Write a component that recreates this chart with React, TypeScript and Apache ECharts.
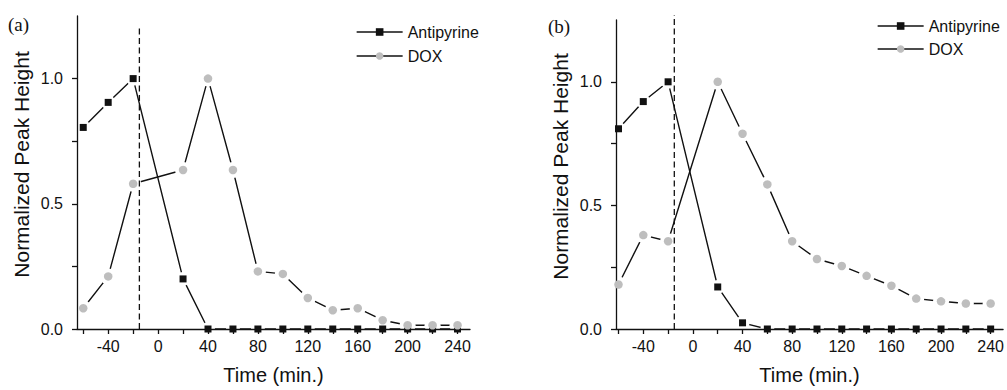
import React, { useEffect, useRef } from "react";
import * as echarts from "echarts";

// ---- data ----
const times = [-60, -40, -20, 20, 40, 60, 80, 100, 120, 140, 160, 180, 200, 220, 240];
const antipyrineA = [0.805, 0.905, 1.0, 0.2, 0, 0, 0, 0, 0, 0, 0, 0, 0, 0, 0];
const doxA = [0.083, 0.21, 0.58, 0.635, 1.0, 0.635, 0.23, 0.22, 0.124, 0.075, 0.083, 0.035, 0.015, 0.015, 0.015];
const antipyrineB = [0.81, 0.92, 1.0, 0.17, 0.025, 0, 0, 0, 0, 0, 0, 0, 0, 0, 0];
const doxB = [0.18, 0.38, 0.355, 1.0, 0.79, 0.585, 0.355, 0.283, 0.255, 0.215, 0.175, 0.123, 0.112, 0.103, 0.103];
const injectionTime = -15;
const dashTops = [1.2, 1.27];
const xLabelValues = [-40, 0, 40, 80, 120, 160, 200, 240];
const xTickValues = [-60, -40, -20, 0, 20, 40, 60, 80, 100, 120, 140, 160, 180, 200, 220, 240];
const yLabelValues = [0, 0.5, 1.0];
const yTickValues = [0, 0.25, 0.5, 0.75, 1.0];
const panelTitles = ["(a)", "(b)"];
const seriesNames = ["Antipyrine", "DOX"];
const xRanges = [[-65, 250], [-62, 250]];

const SANS = "'Liberation Sans', Arial, sans-serif";
const SERIF = "'Liberation Serif', 'Times New Roman', serif";
const INK = "#111";
const GREY = "#bebebe";

const pair = (xs: number[], ys: number[]) => xs.map((x, i) => [x, ys[i]]);

export default function App() {
  const ref = useRef<HTMLDivElement>(null);
  useEffect(() => {
    if (!ref.current) return;
    const chart = echarts.init(ref.current, undefined, { renderer: "svg" });
    const grids = [
      { left: 77, top: 16, width: 393, height: 316 },
      { left: 616, top: 20, width: 389, height: 313 },
    ];
    const xAxes = grids.map((_, p) => ({
      type: "value",
      gridIndex: p,
      min: xRanges[p][0],
      max: xRanges[p][1],
      z: 5,
      name: "Time (min.)",
      nameLocation: "middle",
      nameGap: 36,
      nameTextStyle: { fontFamily: SANS, fontSize: 20, color: INK },
      axisLine: { show: true, onZero: false, lineStyle: { color: INK, width: 1.3 } },
      axisTick: { show: true, length: 5, customValues: xTickValues, lineStyle: { color: INK, width: 1.3 } },
      axisLabel: { customValues: xLabelValues, margin: 9, fontFamily: SANS, fontSize: 16, color: INK },
      splitLine: { show: false },
    }));
    const yAxes = grids.map((_, p) => ({
      type: "value",
      gridIndex: p,
      min: 0,
      max: 1.25,
      z: 5,
      name: "Normalized Peak Height",
      nameLocation: "middle",
      nameGap: 45,
      nameTextStyle: { fontFamily: SANS, fontSize: 21, color: INK, padding: [0, 0, 0, 16] },
      axisLine: { show: true, onZero: false, lineStyle: { color: INK, width: 1.3 } },
      axisTick: { show: true, length: 5, customValues: yTickValues, lineStyle: { color: INK, width: 1.3 } },
      axisLabel: {
        customValues: yLabelValues,
        margin: 14,
        fontFamily: SANS,
        fontSize: 16,
        color: INK,
        formatter: (v: number) => v.toFixed(1),
      },
      splitLine: { show: false },
    }));

    const series: any[] = [];
    const panels = [
      [antipyrineA, doxA],
      [antipyrineB, doxB],
    ];
    // marker series first (they define the legend icons)
    panels.forEach((vals, p) => {
      series.push({
        type: "line",
        name: seriesNames[0],
        xAxisIndex: p,
        yAxisIndex: p,
        data: pair(times, vals[0]),
        symbol: "rect",
        symbolSize: 7,
        showSymbol: true,
        itemStyle: { color: INK },
        lineStyle: { width: 0, opacity: 0, color: INK },
        z: 6,
      });
      series.push({
        type: "line",
        name: seriesNames[1],
        xAxisIndex: p,
        yAxisIndex: p,
        data: pair(times, vals[1]),
        symbol: "circle",
        symbolSize: 8.5,
        showSymbol: true,
        itemStyle: { color: GREY },
        lineStyle: { width: 0, opacity: 0, color: INK },
        z: 6,
      });
    });
    panels.forEach((vals, p) => {
      vals.forEach((v, k) => {
        series.push({
          type: "line",
          name: `line-${p}-${k}`,
          xAxisIndex: p,
          yAxisIndex: p,
          data: pair(times, v),
          symbol: "none",
          lineStyle: { color: INK, width: 1.4 },
          silent: true,
          z: 2,
        });
        series.push({
          type: "scatter",
          name: `halo-${p}-${k}`,
          xAxisIndex: p,
          yAxisIndex: p,
          data: pair(times, v),
          symbol: "circle",
          symbolSize: k === 0 ? 14 : 16,
          itemStyle: { color: "#ffffff", opacity: 1 },
          silent: true,
          z: 3,
        });
      });
      series.push({
        type: "line",
        name: `inject-${p}`,
        xAxisIndex: p,
        yAxisIndex: p,
        data: [
          [injectionTime, 0],
          [injectionTime, dashTops[p]],
        ],
        symbol: "none",
        clip: false,
        lineStyle: { color: INK, width: 1.3, type: [6, 3.5] },
        silent: true,
        z: 4,
      });
    });

    const legendBase = {
      orient: "vertical",
      padding: 0,
      itemWidth: 46,
      itemHeight: 9.5,
      selectedMode: false,
      data: seriesNames,
      textStyle: { fontFamily: SANS, fontSize: 16, color: INK },
      lineStyle: { width: 1.3, color: INK, opacity: 1 },
    };

    chart.setOption({
      animation: false,
      backgroundColor: "#ffffff",
      title: [
        { text: panelTitles[0], left: 8, top: 15, padding: 0, textStyle: { fontFamily: SERIF, fontSize: 19, fontWeight: "normal", color: INK } },
        { text: panelTitles[1], left: 548, top: 17, padding: 0, textStyle: { fontFamily: SERIF, fontSize: 19, fontWeight: "normal", color: INK } },
      ],
      legend: [
        { ...legendBase, left: 356, top: 24, itemGap: 8 },
        { ...legendBase, left: 877, top: 18, itemGap: 7 },
      ],
      grid: grids,
      xAxis: xAxes,
      yAxis: yAxes,
      series,
    });
    return () => chart.dispose();
  }, []);
  return (
    <div
      ref={ref}
      style={{ position: "absolute", left: 0, top: 0, width: 1007, height: 390, background: "#fff" }}
    />
  );
}
